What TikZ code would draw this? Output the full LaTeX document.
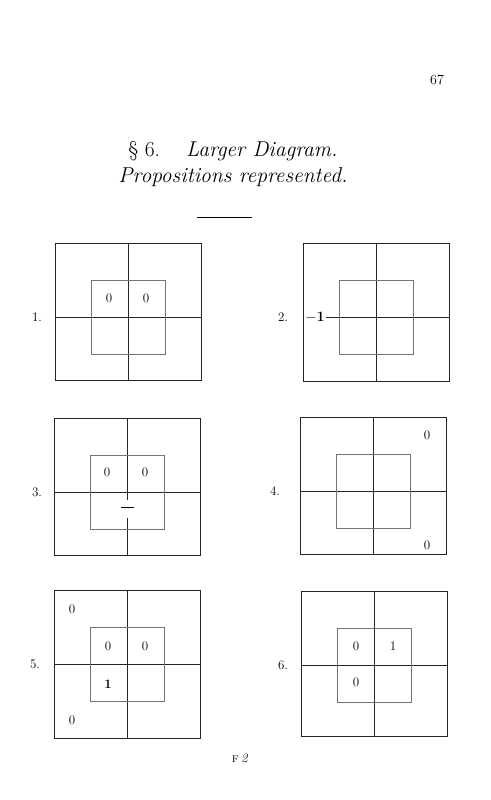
\documentclass[tikz,border=0pt]{standalone}
\usepackage{tikz}
\usetikzlibrary{positioning}

\tikzset{
  outerline/.style={draw=black!85,line width=.9pt},
  innerline/.style={draw=black!55,line width=.7pt},
  cell/.style={inner sep=0pt,font=\fontsize{13}{15}\selectfont},
  numlabel/.style={inner sep=0pt,font=\fontsize{13}{15}\selectfont},
  heading/.style={inner sep=0pt,font=\fontsize{21.5}{24}\selectfont},
}

\begin{document}
\begin{tikzpicture}[x=1pt,y=-1pt]
\useasboundingbox (0,0) rectangle (490,800);
% page head
\node[inner sep=0pt,font=\fontsize{14}{16}\selectfont] (page) at (437,80) {67};
\node[heading] (head1) at (233,151) {\S\ 6.\hspace{26pt}\textit{Larger Diagram.}};
\node[heading,below=6pt of head1] (head2) {\textit{Propositions represented.}};
\coordinate (rulel) at (197,217);
\coordinate (ruler) at (252,217);
\draw[line width=.8pt] (rulel) -- (ruler);
% the six diagrams: centre x / centre y / bottom edge / number / label x
\foreach \cx/\cy/\bot/\n/\lx in {128/317/380/1/37, 376/317/381/2/283,
    127/492/555/3/37, 373/491/554/4/275, 127/664/738/5/35, 374/665/736/6/283}{
  \draw[outerline] (\cx-73,\cy-74) rectangle (\cx+73,\bot);
  \draw[outerline] (\cx-73,\cy) -- (\cx+73,\cy);
  \draw[outerline] (\cx,\cy-74) -- (\cx,\bot);
  \draw[innerline] (\cx-37,\cy-37) rectangle (\cx+37,\cy+37);
  \node[numlabel] (lab\n) at (\lx,\cy) {\n.};
}
% 1.
\node[cell] (c1a) at (109,298) {0};
\node[cell] (c1b) at (146,298) {0};
% 2.
\node[cell,fill=white,inner sep=1pt,font=\fontsize{14}{16}\selectfont] (c2a) at (315,317) {$\mathbf{-1}$};
% 3.
\node[cell] (c3a) at (107,472) {0};
\node[cell] (c3b) at (145,472) {0};
\node[cell,fill=white,minimum height=18pt] (c3c) at (127,509) {\rule[3pt]{13pt}{1.1pt}};
% 4.
\node[cell] (c4a) at (427,435) {0};
\node[cell] (c4b) at (427,545) {0};
% 5.
\node[cell] (c5a) at (72,609) {0};
\node[cell] (c5b) at (72,720) {0};
\node[cell] (c5c) at (108,646) {0};
\node[cell] (c5d) at (145,646) {0};
\node[cell] (c5e) at (108,684) {\textbf{1}};
% 6.
\node[cell] (c6a) at (356,646) {0};
\node[cell] (c6b) at (393,646) {1};
\node[cell] (c6c) at (356,682) {0};
% foot
\node[inner sep=0pt,font=\fontsize{13}{15}\selectfont] (foot) at (240,758) {\textsc{f}\,\textit{2}};
\end{tikzpicture}
\end{document}
